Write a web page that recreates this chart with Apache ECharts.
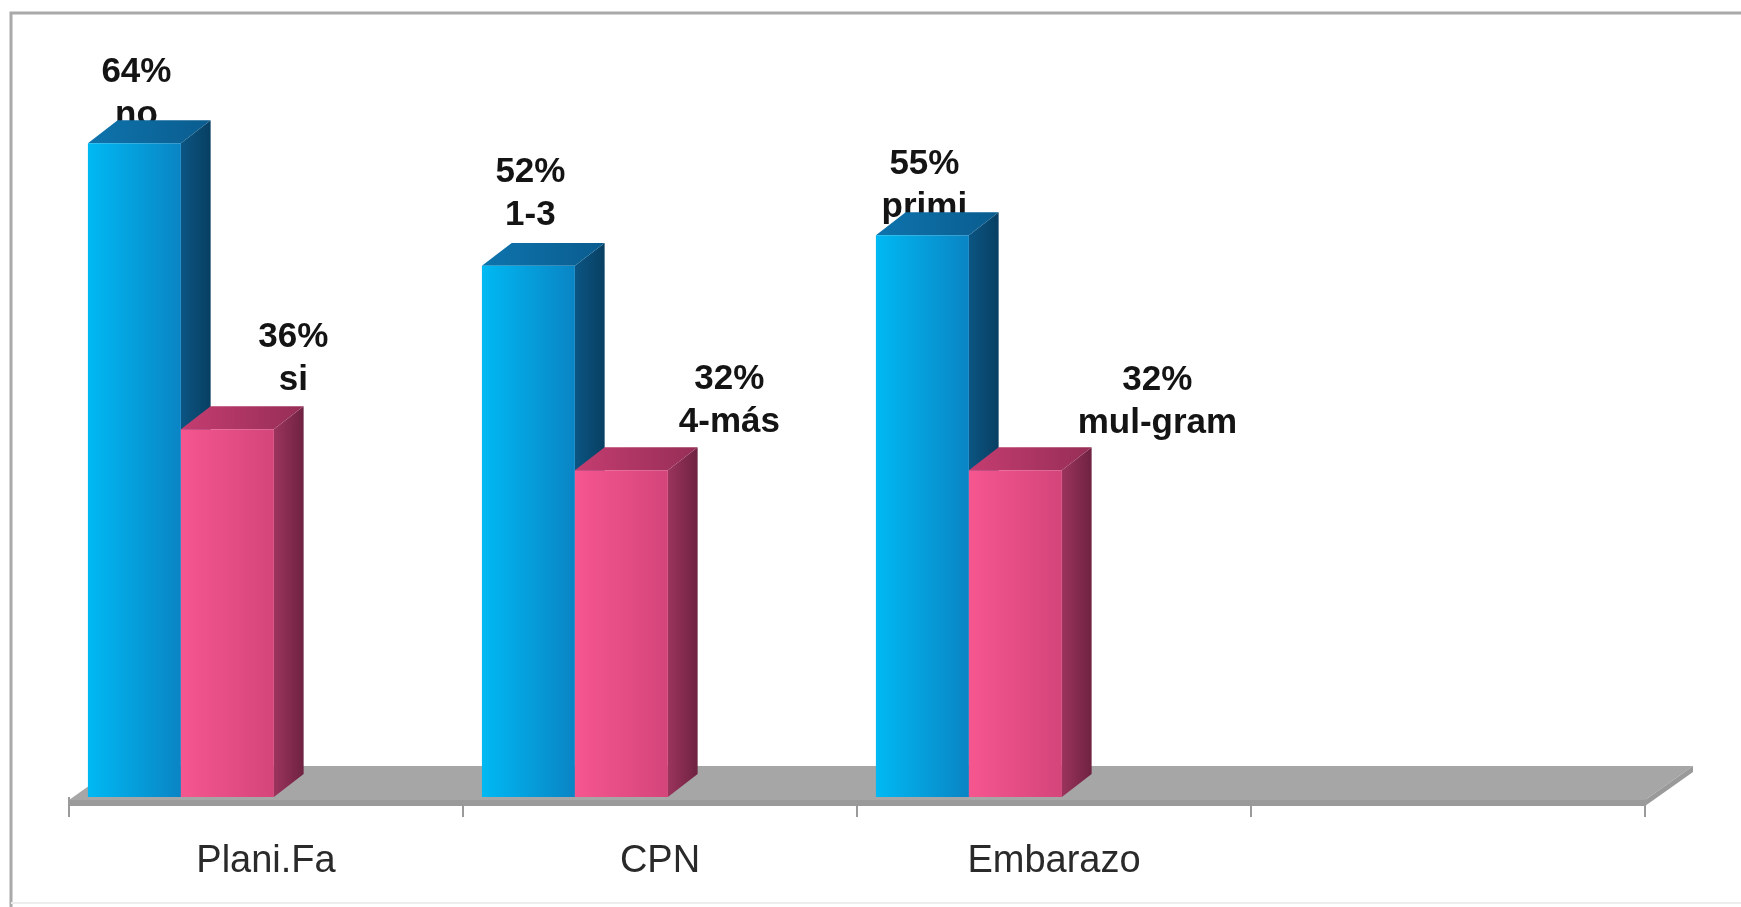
<!DOCTYPE html>
<html>
<head>
<meta charset="utf-8">
<title>Plani.Fa / CPN / Embarazo</title>
<script src="https://cdn.jsdelivr.net/npm/echarts@6/dist/echarts.min.js"></script>
<style>
  html, body { margin: 0; padding: 0; background: #fff; }
  #chart { width: 1741px; height: 907px; }
</style>
</head>
<body>
<div id="chart"></div>
<script>
// categorias del eje x (la cuarta queda vacia)
var categorias = ['Plani.Fa', 'CPN', 'Embarazo', ''];
// porcentajes de cada serie
var valoresAzul = [64, 52, 55];
var valoresRosa = [36, 32, 32];
// texto debajo del porcentaje
var etiquetasAzul = ['no', '1-3', 'primi'];
var etiquetasRosa = ['si', '4-más', 'mul-gram'];

// desplazamiento de las etiquetas respecto a la cara frontal [dx, dy]
var despAzul = [[2, -71], [2, -94], [2, -71]];
var despRosa = [[66, -92], [108, -91], [142, -90]];

var chart = echarts.init(document.getElementById('chart'));

var grad = echarts.graphic.LinearGradient;

var estiloAzul = {
  orden: 0,
  frente: new grad(0, 0, 1, 0, [{ offset: 0, color: '#00b9f3' }, { offset: 1, color: '#0a84c4' }]),
  arriba: new grad(0, 0, 1, 0, [{ offset: 0, color: '#0e74ad' }, { offset: 1, color: '#0a5c8e' }]),
  lado: new grad(0, 0, 1, 0, [{ offset: 0, color: '#0b5583' }, { offset: 1, color: '#083f62' }])
};
var estiloRosa = {
  orden: 1,
  frente: new grad(0, 0, 1, 0, [{ offset: 0, color: '#f6568f' }, { offset: 1, color: '#d4457a' }]),
  arriba: new grad(0, 0, 1, 0, [{ offset: 0, color: '#c43d70' }, { offset: 1, color: '#962e56' }]),
  lado: new grad(0, 0, 1, 0, [{ offset: 0, color: '#9c345d' }, { offset: 1, color: '#6e2241' }])
};

// barra 3d: etiqueta primero para que la tapa la tape un poco
function barra3d(est, etiquetas, desp) {
  return function (params, api) {
    var i = api.value(0);
    var v = api.value(1);
    var base = api.coord([i, 0]);
    var cima = api.coord([i, v]);
    var banda = api.size([1, 0])[0];
    var ancho = banda * 0.236;
    var x0 = base[0] - banda / 2 + banda * 0.048 + est.orden * ancho;
    var x1 = x0 + ancho;
    var y0 = base[1], y1 = cima[1];
    var dx = ancho * 0.32, dy = dx * 0.77;
    var k = params.dataIndex;
    return {
      type: 'group',
      children: [
        {
          type: 'text',
          x: (x0 + x1) / 2 + desp[k][0],
          y: y1 + desp[k][1] - 21.5,
          style: {
            text: v + '%\n' + etiquetas[k],
            fill: '#141414',
            fontSize: 35,
            fontWeight: 'bold',
            fontFamily: '"Liberation Sans", Arial, sans-serif',
            align: 'center',
            verticalAlign: 'top',
            lineHeight: 43
          }
        },
        {
          type: 'polygon',
          shape: { points: [[x1, y1], [x1 + dx, y1 - dy], [x1 + dx, y0 - dy], [x1, y0]] },
          style: { fill: est.lado }
        },
        {
          type: 'polygon',
          shape: { points: [[x0, y1], [x0 + dx, y1 - dy], [x1 + dx, y1 - dy], [x1, y1]] },
          style: { fill: est.arriba }
        },
        {
          type: 'rect',
          shape: { x: x0, y: y1, width: ancho, height: y0 - y1 },
          style: { fill: est.frente }
        }
      ]
    };
  };
}

// piso gris debajo de las barras
function piso(params, api) {
  var cs = params.coordSys;
  var yb = api.coord([0, 0])[1];
  var xa = cs.x, xb = cs.x + cs.width;
  var yf = yb + 3, yt = yb - 31;
  return {
    type: 'group',
    children: [
      {
        type: 'polygon',
        shape: { points: [[xa, yf], [xa + 48, yt], [xb + 48, yt], [xb, yf]] },
        style: { fill: '#a6a6a6' }
      },
      {
        type: 'rect',
        shape: { x: xa, y: yf, width: xb - xa, height: 6 },
        style: { fill: '#9a9a9a' }
      },
      {
        type: 'polygon',
        shape: { points: [[xb, yf], [xb + 48, yt], [xb + 48, yt + 6], [xb, yf + 6]] },
        style: { fill: '#9a9a9a' }
      }
    ]
  };
}

var datosAzul = valoresAzul.map(function (v, i) { return [i, v]; });
var datosRosa = valoresRosa.map(function (v, i) { return [i, v]; });

var option = {
  backgroundColor: '#ffffff',
  animation: false,
  grid: { left: 69, right: 96, top: 82, bottom: 110 },
  xAxis: {
    type: 'category',
    data: categorias,
    boundaryGap: true,
    axisLine: { show: false },
    axisTick: { show: true, interval: 0, length: 20, lineStyle: { color: '#9a9a9a', width: 2 } },
    axisLabel: {
      interval: 0,
      margin: 46,
      fontSize: 38,
      color: '#2a2a2a',
      fontFamily: '"Liberation Sans", Arial, sans-serif'
    },
    splitLine: { show: false }
  },
  yAxis: {
    type: 'value',
    min: 0,
    max: 70,
    show: false
  },
  graphic: [
    {
      type: 'polyline',
      shape: { points: [[11, 907], [11, 13], [1741, 13]] },
      style: { stroke: '#a9a9a9', lineWidth: 3, fill: null },
      silent: true
    },
    {
      type: 'line',
      shape: { x1: 11, y1: 903, x2: 1741, y2: 903 },
      style: { stroke: '#ededed', lineWidth: 2 },
      silent: true
    }
  ],
  series: [
    {
      type: 'custom',
      name: 'piso',
      data: [[0, 0]],
      renderItem: piso,
      silent: true,
      z: 1
    },
    {
      type: 'custom',
      name: 'azul',
      data: datosAzul,
      encode: { x: 0, y: 1 },
      renderItem: barra3d(estiloAzul, etiquetasAzul, despAzul),
      z: 2
    },
    {
      type: 'custom',
      name: 'rosa',
      data: datosRosa,
      encode: { x: 0, y: 1 },
      renderItem: barra3d(estiloRosa, etiquetasRosa, despRosa),
      z: 3
    }
  ]
};

chart.setOption(option);
</script>
</body>
</html>
